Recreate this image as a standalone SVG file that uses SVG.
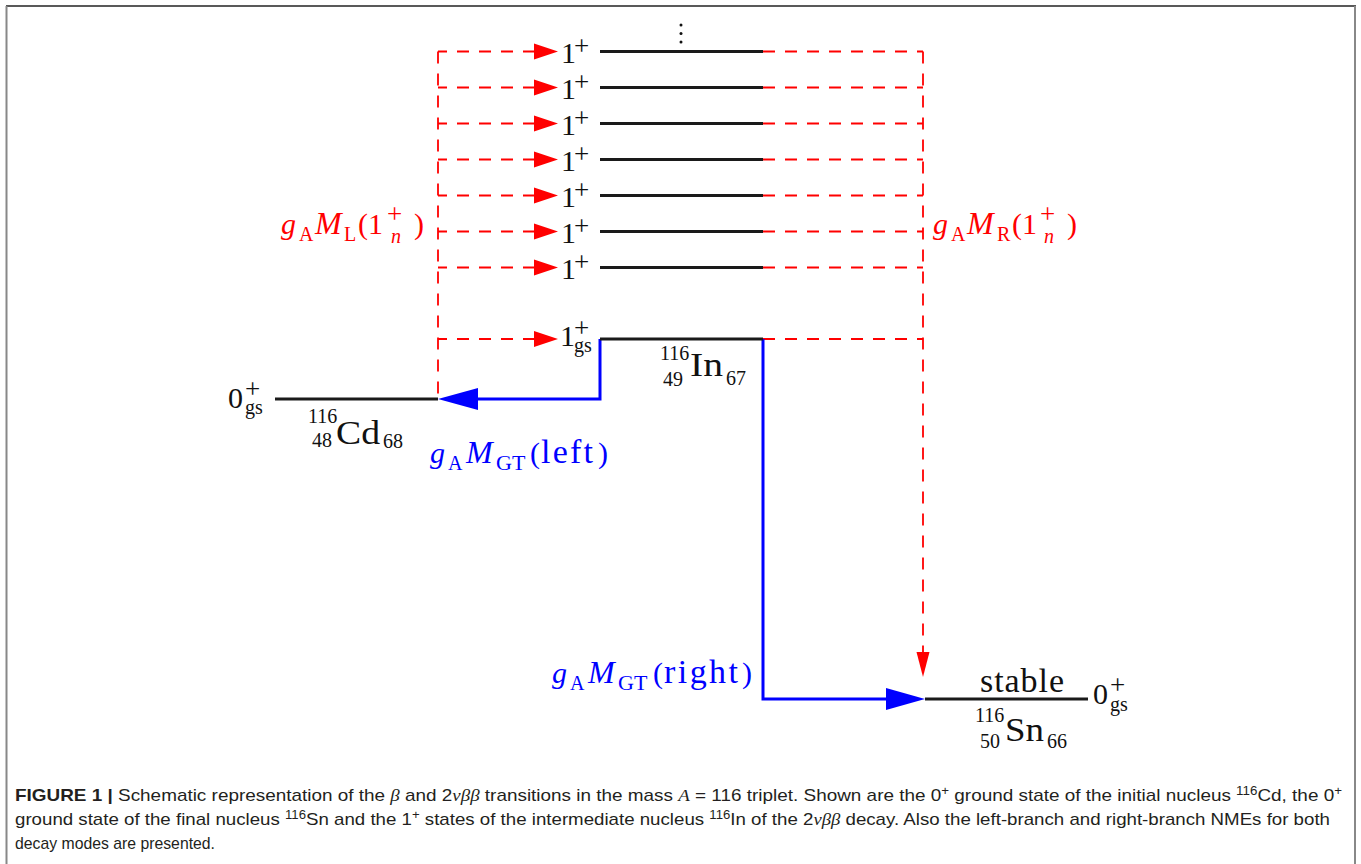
<svg xmlns="http://www.w3.org/2000/svg" width="1361" height="864" viewBox="0 0 1361 864">
<style>
.m{font-family:"Liberation Serif","Times New Roman",serif;font-size:30px;fill:#111}
.w{font-size:34px}
.mm{font-size:32px;font-style:italic}
.s{font-size:20px}
.t{font-size:22px}
.p{font-size:27px}
.i{font-style:italic}
.r{fill:#ff0000}
.b{fill:#0000ff}
.lvl{stroke:#1a1a1a;stroke-width:3;fill:none}
.rd{stroke:#ff0000;stroke-width:1.8;fill:none;stroke-dasharray:12 10}
.bl{stroke:#0000ff;stroke-width:3;fill:none}
.cap{font-family:"Liberation Sans",Arial,sans-serif;font-size:17px;fill:#231f20}
.gk{font-family:"Liberation Serif",serif;font-style:italic}
</style>
<defs>
<polygon id="ra" points="0,0 -24,-8 -24,8" fill="#ff0000"/>
</defs>
<g id="frame">
<line x1="6" y1="6" x2="1356" y2="6" stroke="#222" stroke-width="1.6"/>
<line x1="6.5" y1="6" x2="6.5" y2="864" stroke="#888" stroke-width="2"/>
<line x1="1355" y1="6" x2="1355" y2="864" stroke="#888" stroke-width="2"/>
</g>
<g id="connectors">
<path class="rd" d="M535,51.5H438M535,87.5H438M535,123.5H438M535,159.5H438M535,195.5H438M535,231.5H438M535,267.5H438M535,339H438"/>
<path class="rd" d="M763,51.5H923M763,87.5H923M763,123.5H923M763,159.5H923M763,195.5H923M763,231.5H923M763,267.5H923M763,339H923"/>
<path class="rd" d="M438,51.5V399"/>
<path class="rd" d="M923,51.5V654"/>
<use href="#ra" x="558" y="51.5"/>
<use href="#ra" x="558" y="87.5"/>
<use href="#ra" x="558" y="123.5"/>
<use href="#ra" x="558" y="159.5"/>
<use href="#ra" x="558" y="195.5"/>
<use href="#ra" x="558" y="231.5"/>
<use href="#ra" x="558" y="267.5"/>
<use href="#ra" x="558" y="339"/>
<polygon points="916.5,652 929.5,652 923,677" fill="#ff0000"/>
<path class="bl" d="M600,339V399H476"/>
<polygon points="438,399 478,388 478,410" fill="#0000ff"/>
<path class="bl" d="M763,339V699H888"/>
<polygon points="925,699 886,688 886,710" fill="#0000ff"/>
</g>
<g id="levels">
<path class="lvl" d="M600,51.5H763M600,87.5H763M600,123.5H763M600,159.5H763M600,195.5H763M600,231.5H763M600,267.5H763"/>
<circle cx="681" cy="25" r="1.5" fill="#111"/>
<circle cx="681" cy="33.5" r="1.5" fill="#111"/>
<circle cx="681" cy="42" r="1.5" fill="#111"/>
<g class="m">
<text x="561" y="63">1<tspan class="p" x="574" y="55">+</tspan></text>
<text x="561" y="99">1<tspan class="p" x="574" y="91">+</tspan></text>
<text x="561" y="135">1<tspan class="p" x="574" y="127">+</tspan></text>
<text x="561" y="171">1<tspan class="p" x="574" y="163">+</tspan></text>
<text x="561" y="207">1<tspan class="p" x="574" y="199">+</tspan></text>
<text x="561" y="243">1<tspan class="p" x="574" y="235">+</tspan></text>
<text x="561" y="279">1<tspan class="p" x="574" y="271">+</tspan></text>
</g>
</g>
<g id="In116">
<path class="lvl" d="M600,339H763"/>
<g class="m">
<text x="560" y="346">1<tspan class="p" x="574" y="337">+</tspan><tspan class="s" x="574" y="352">gs</tspan></text>
<text x="660" y="360"><tspan class="s">116</tspan><tspan class="s" x="663" y="386">49</tspan><tspan class="w" x="690" y="376" textLength="33" lengthAdjust="spacingAndGlyphs">In</tspan><tspan class="s" x="726" y="385">67</tspan></text>
</g>
</g>
<g id="Cd116">
<path class="lvl" d="M275,399H438"/>
<g class="m">
<text x="228" y="408">0<tspan class="p" x="245" y="398">+</tspan><tspan class="s" x="245" y="414">gs</tspan></text>
<text x="308" y="423"><tspan class="s">116</tspan><tspan class="s" x="312" y="447">48</tspan><tspan class="w" x="336" y="444" textLength="44" lengthAdjust="spacingAndGlyphs">Cd</tspan><tspan class="s" x="383" y="448">68</tspan></text>
</g>
</g>
<g id="Sn116">
<path class="lvl" d="M925,699H1088"/>
<g class="m">
<text class="w" x="980" y="692" textLength="84" lengthAdjust="spacing">stable</text>
<text x="1093" y="704">0<tspan class="p" x="1110" y="694">+</tspan><tspan class="s" x="1110" y="711">gs</tspan></text>
<text x="975" y="722"><tspan class="s">116</tspan><tspan class="s" x="980" y="748">50</tspan><tspan class="w" x="1005" y="741" textLength="39" lengthAdjust="spacingAndGlyphs">Sn</tspan><tspan class="s" x="1047" y="748">66</tspan></text>
</g>
</g>
<g id="labelML">
<text class="m r" x="281" y="234"><tspan class="i">g</tspan><tspan class="s" x="299" y="241">A</tspan><tspan class="mm" x="315" y="234">M</tspan><tspan class="s" x="344" y="241">L</tspan><tspan x="358" y="234">(1</tspan><tspan class="p" x="387" y="223">+</tspan><tspan class="s i" x="391" y="243">n</tspan><tspan x="414" y="234">)</tspan></text>
</g>
<g id="labelMR">
<text class="m r" x="933" y="234"><tspan class="i">g</tspan><tspan class="s" x="951" y="241">A</tspan><tspan class="mm" x="967" y="234">M</tspan><tspan class="s" x="997" y="241">R</tspan><tspan x="1012" y="234">(1</tspan><tspan class="p" x="1040" y="223">+</tspan><tspan class="s i" x="1044" y="243">n</tspan><tspan x="1067" y="234">)</tspan></text>
</g>
<g id="labelGTleft">
<text class="m b" x="430" y="463"><tspan class="i">g</tspan><tspan class="s" x="448" y="470">A</tspan><tspan class="mm" x="466" y="463">M</tspan><tspan class="t" x="496" y="470">GT</tspan><tspan x="530" y="463">(</tspan><tspan class="w" x="541" y="463" textLength="52" lengthAdjust="spacing">left</tspan><tspan x="598" y="463">)</tspan></text>
</g>
<g id="labelGTright">
<text class="m b" x="552" y="683"><tspan class="i">g</tspan><tspan class="s" x="570" y="690">A</tspan><tspan class="mm" x="588" y="683">M</tspan><tspan class="t" x="618" y="690">GT</tspan><tspan x="653" y="683">(</tspan><tspan class="w" x="664" y="683" textLength="74" lengthAdjust="spacing">right</tspan><tspan x="742" y="683">)</tspan></text>
</g>
<g id="caption" class="cap">
<text x="15" y="801" textLength="1327" lengthAdjust="spacingAndGlyphs"><tspan font-weight="bold">FIGURE 1 | </tspan>Schematic representation of the <tspan class="gk">β</tspan> and 2<tspan class="gk">νββ</tspan> transitions in the mass <tspan class="gk">A</tspan> = 116 triplet. Shown are the 0<tspan font-size="12" dy="-6">+</tspan><tspan dy="6"> ground state of the initial nucleus </tspan><tspan font-size="12" dy="-6">116</tspan><tspan dy="6">Cd, the 0</tspan><tspan font-size="12" dy="-6">+</tspan></text>
<text x="15" y="825" textLength="1315" lengthAdjust="spacingAndGlyphs">ground state of the final nucleus <tspan font-size="12" dy="-6">116</tspan><tspan dy="6">Sn and the 1</tspan><tspan font-size="12" dy="-6">+</tspan><tspan dy="6"> states of the intermediate nucleus </tspan><tspan font-size="12" dy="-6">116</tspan><tspan dy="6">In of the 2</tspan><tspan class="gk">νββ</tspan> decay. Also the left-branch and right-branch NMEs for both</text>
<text x="15" y="849" textLength="200" lengthAdjust="spacingAndGlyphs">decay modes are presented.</text>
</g>
</svg>
